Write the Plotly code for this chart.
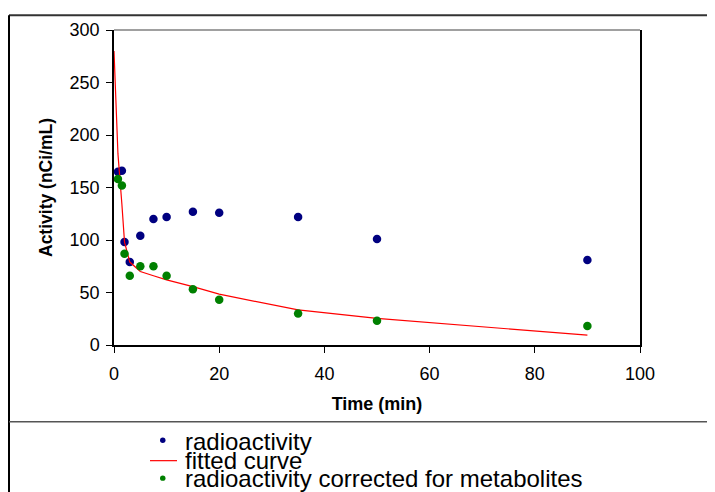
import plotly.graph_objects as go

# ---- data ----
time_min = [0.75, 1.5, 2, 3, 5, 7.5, 10, 15, 20, 35, 50, 90]
radioactivity = [165, 166, 98, 79, 104, 120, 122, 127, 126, 122, 101, 81]
corrected = [158, 152, 87, 66, 75, 75, 66, 53, 43, 30, 23, 18]
fit_time = [0, 0.75, 1.5, 2, 3, 5, 7.5, 10, 15, 20, 35, 50, 90]
fit_values = [280, 182, 134, 98, 79, 70, 66, 62, 55.6, 48.4, 33.4, 25.3, 9.4]

legend_labels = ["radioactivity", "fitted curve", "radioactivity corrected for metabolites"]

# page has an 8px body margin, so the figure is drawn 8px in from the top-left
OFF = 8
W, H = 715 - OFF, 492 - OFF
L, R, T, B = 114 - OFF, 715 - 640, 25 - OFF, 492 - 345
pw, ph = W - L - R, H - T - B

def px(x):
    return (x - OFF - L) / pw

def py(y):
    return (H - B - (y - OFF)) / ph

FONT = "Liberation Sans, Arial, sans-serif"

fig = go.Figure()
fig.add_trace(go.Scatter(x=time_min, y=radioactivity, mode="markers", name=legend_labels[0],
                         marker=dict(color="#000080", size=8.5), showlegend=False))
fig.add_trace(go.Scatter(x=fit_time, y=fit_values, mode="lines", name=legend_labels[1],
                         line=dict(color="#FF0000", width=1.2), showlegend=False))
fig.add_trace(go.Scatter(x=time_min, y=corrected, mode="markers", name=legend_labels[2],
                         marker=dict(color="#008000", size=8.5), showlegend=False))

fig.update_layout(
    width=W, height=H,
    margin=dict(l=L, r=R, t=T, b=B),
    paper_bgcolor="white", plot_bgcolor="white",
    font=dict(family=FONT, color="black"),
    xaxis=dict(range=[0, 100], tickvals=[0, 20, 40, 60, 80, 100], showgrid=False, zeroline=False,
               showline=True, linecolor="black", linewidth=1.5, ticks="outside", ticklen=6,
               tickcolor="black", tickfont=dict(size=18), ticklabelstandoff=6,
               title=dict(text="<b>Time (min)</b>", font=dict(size=18), standoff=14)),
    yaxis=dict(range=[0, 300], tickvals=[0, 50, 100, 150, 200, 250, 300], showgrid=False, zeroline=False,
               showline=True, mirror=True, linecolor="black", linewidth=1.5, ticks="outside", ticklen=6,
               tickcolor="black", tickfont=dict(size=18), ticklabelstandoff=3,
               title=dict(text="<b>Activity (nCi/mL)</b>", font=dict(size=17.5), standoff=12)),
)

shapes = [
    # top border of plot area (gray)
    dict(type="line", xref="paper", yref="paper", x0=0, x1=1, y0=1, y1=1,
         line=dict(color="#808080", width=1.5)),
    # outer frame
    dict(type="line", xref="paper", yref="paper", x0=px(9), x1=px(716), y0=py(10), y1=py(10),
         line=dict(color="#333333", width=2)),
    dict(type="line", xref="paper", yref="paper", x0=px(9), x1=px(9), y0=py(10), y1=py(495),
         line=dict(color="black", width=2)),
    dict(type="line", xref="paper", yref="paper", x0=px(9), x1=px(716), y0=py(423), y1=py(423),
         line=dict(color="#555555", width=1.5)),
    # legend symbols
    dict(type="circle", xref="paper", yref="paper", x0=px(160), x1=px(165.5), y0=py(439), y1=py(444.5),
         fillcolor="#000080", line=dict(width=0)),
    dict(type="line", xref="paper", yref="paper", x0=px(150), x1=px(177), y0=py(462.5), y1=py(462.5),
         line=dict(color="#FF0000", width=1.2)),
    dict(type="circle", xref="paper", yref="paper", x0=px(160), x1=px(165.5), y0=py(477.5), y1=py(483),
         fillcolor="#008000", line=dict(width=0)),
]
fig.update_layout(shapes=shapes)

row_y = [443, 462, 481]
for lab, yy in zip(legend_labels, row_y):
    fig.add_annotation(text=lab, xref="paper", yref="paper", x=px(183), y=py(yy),
                       xanchor="left", yanchor="middle", showarrow=False,
                       font=dict(size=24, family=FONT, color="black"))

fig.write_html("out.html")
